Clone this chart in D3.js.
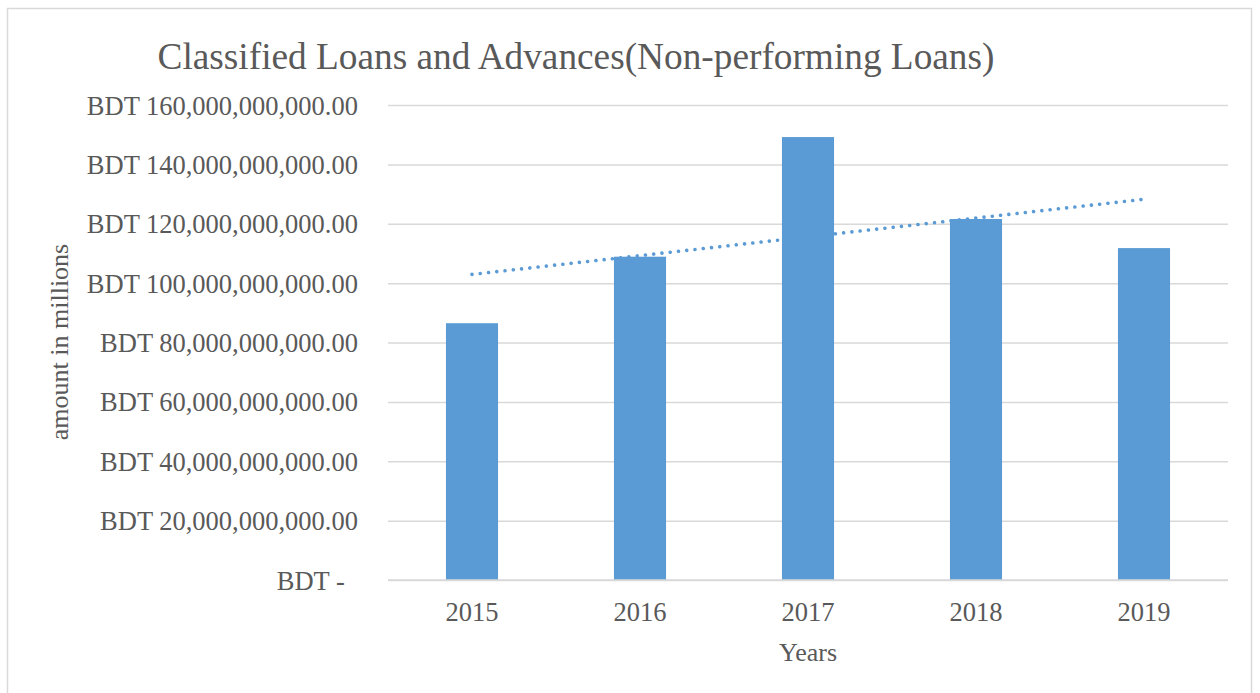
<!DOCTYPE html>
<html>
<head>
<meta charset="utf-8">
<script src="https://cdn.jsdelivr.net/npm/d3@7"></script>
<style>
  html, body { margin: 0; padding: 0; background: #fff; }
  svg { display: block; }
  text { font-family: "Liberation Serif", "Times New Roman", serif; fill: #595959; }
</style>
</head>
<body>
<svg id="chart" width="1260" height="693"></svg>
<script>
const categories = ["2015", "2016", "2017", "2018", "2019"];
const values = [86.5e9, 108.9e9, 149.2e9, 121.6e9, 111.8e9];
const yTicks = [0, 20e9, 40e9, 60e9, 80e9, 100e9, 120e9, 140e9, 160e9];
const titleText = "Classified Loans and Advances(Non-performing Loans)";
const yTitle = "amount in millions";
const xTitle = "Years";

const svg = d3.select("#chart");
const m = { left: 388, right: 1228, top: 105, bottom: 580 };

svg.append("rect").attr("x", 7.5).attr("y", 8.5).attr("width", 1244).attr("height", 700)
  .attr("fill", "#fff").attr("stroke", "#d9d9d9").attr("stroke-width", 1.5);

const x = d3.scaleBand().domain(categories).range([m.left, m.right]).paddingInner(0.69).paddingOuter(0.345);
const y = d3.scaleLinear().domain([0, 160e9]).range([m.bottom, m.top]);

const fmt = v => v === 0 ? "BDT -\u00a0\u00a0" : "BDT " + d3.format(",.2f")(v);

// gridlines + y labels
const yAxis = d3.axisLeft(y).tickValues(yTicks).tickFormat(fmt).tickSize(-(m.right - m.left)).tickPadding(30);
const gy = svg.append("g").attr("transform", `translate(${m.left},0)`).call(yAxis);
gy.select(".domain").remove();
gy.selectAll(".tick line").attr("stroke", "#d9d9d9").attr("stroke-width", 1.5);
gy.selectAll(".tick text").attr("font-size", 26.5).attr("fill", "#595959")
  .style("white-space", "pre").attr("dy", "0.34em");

// bars
svg.append("g").selectAll("rect").data(values).join("rect")
  .attr("x", (d, i) => x(categories[i]))
  .attr("width", x.bandwidth())
  .attr("y", d => y(d))
  .attr("height", d => y(0) - y(d))
  .attr("fill", "#5B9BD5");

// x axis labels
const xAxis = d3.axisBottom(x).tickSize(0).tickPadding(22);
const gx = svg.append("g").attr("transform", `translate(0,${m.bottom})`).call(xAxis);
gx.select(".domain").remove();
gx.selectAll(".tick text").attr("font-size", 26.5).attr("fill", "#595959");
svg.append("line").attr("x1", m.left).attr("x2", m.right).attr("y1", y(0)).attr("y2", y(0))
  .attr("stroke", "#d9d9d9").attr("stroke-width", 1.5);

// linear trendline (least squares over the bar values)
const n = values.length;
const xs = d3.range(n);
const mx = d3.mean(xs), my = d3.mean(values);
const slope = d3.sum(xs, i => (i - mx) * (values[i] - my)) / d3.sum(xs, i => (i - mx) ** 2);
const icpt = my - slope * mx;
const trend = [0, n - 1].map(i => [x(categories[i]) + x.bandwidth() / 2, y(icpt + slope * i)]);
svg.append("path").attr("d", d3.line()(trend))
  .attr("fill", "none").attr("stroke", "#5B9BD5").attr("stroke-width", 3.6)
  .attr("stroke-linecap", "round").attr("stroke-dasharray", "0.01 8.3");

// titles
svg.append("text").attr("x", 576).attr("y", 69).attr("text-anchor", "middle")
  .attr("font-size", 37.3).text(titleText);
svg.append("text").attr("transform", `translate(68,342) rotate(-90)`).attr("text-anchor", "middle")
  .attr("font-size", 26).text(yTitle);
svg.append("text").attr("x", 808).attr("y", 661).attr("text-anchor", "middle")
  .attr("font-size", 26).text(xTitle);
</script>
</body>
</html>
